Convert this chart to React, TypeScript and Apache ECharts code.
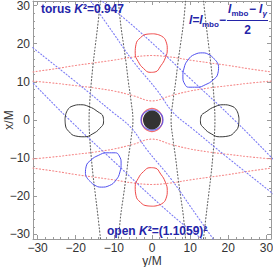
import React, { useEffect, useRef } from "react";
import * as echarts from "echarts";

const MAJOR_TICKS = [-30, -20, -10, 0, 10, 20, 30];
const MINOR_TICKS = [-28, -26, -24, -22, -18, -16, -14, -12, -8, -6, -4, -2, 2, 4, 6, 8, 12, 14, 16, 18, 22, 24, 26, 28];

// closed loops, points [y/M, x/M]
const RED_LOOP_TOP = [[0.3, 22.6], [2.5, 22.0], [3.7, 20.5], [4.0, 18.5], [3.5, 16.3], [2.3, 14.2], [0.8, 12.6], [-0.5, 12.5], [-2.2, 13.5], [-3.6, 15.3], [-4.4, 17.5], [-4.2, 19.8], [-3.0, 21.6], [-1.3, 22.5], [0.3, 22.6]];
const RED_LOOP_BOTTOM = [[0.3, -22.6], [2.5, -22.0], [3.7, -20.5], [4.0, -18.5], [3.5, -16.3], [2.3, -14.2], [0.8, -12.6], [-0.5, -12.5], [-2.2, -13.5], [-3.6, -15.3], [-4.4, -17.5], [-4.2, -19.8], [-3.0, -21.6], [-1.3, -22.5], [0.3, -22.6]];
const BLACK_LOOP_LEFT = [[-22.8, 0.3], [-22.2, 2.5], [-20.7, 3.7], [-18.7, 4.0], [-16.5, 3.5], [-14.4, 2.3], [-12.8, 0.8], [-12.7, -0.5], [-13.7, -2.2], [-15.5, -3.6], [-17.7, -4.4], [-20.0, -4.2], [-21.8, -3.0], [-22.7, -1.3], [-22.8, 0.3]];
const BLACK_LOOP_RIGHT = [[22.8, 0.3], [22.2, 2.5], [20.7, 3.7], [18.7, 4.0], [16.5, 3.5], [14.4, 2.3], [12.8, 0.8], [12.7, -0.5], [13.7, -2.2], [15.5, -3.6], [17.7, -4.4], [20.0, -4.2], [21.8, -3.0], [22.7, -1.3], [22.8, 0.3]];
const BLUE_LOOP_TR = [[16.3, 16.0], [17.45, 14.0], [17.24, 12.1], [16.0, 10.5], [14.1, 9.3], [11.8, 8.6], [9.6, 8.6], [8.6, 9.4], [8.1, 11.3], [8.4, 13.6], [9.4, 15.7], [11.2, 17.2], [13.3, 17.6], [15.1, 17.05], [16.3, 16.0]];
const BLUE_LOOP_BL = [[-16.3, -16.0], [-17.45, -14.0], [-17.24, -12.1], [-16.0, -10.5], [-14.1, -9.3], [-11.8, -8.6], [-9.6, -8.6], [-8.6, -9.4], [-8.1, -11.3], [-8.4, -13.6], [-9.4, -15.7], [-11.2, -17.2], [-13.3, -17.6], [-15.1, -17.05], [-16.3, -16.0]];

// dotted curves
const RED_OUTER_UP = [[-31.2, 12.6], [-25, 13.5], [-20, 14.3], [-15, 15.0], [-10, 15.7], [-5, 16.5], [0, 16.9], [5, 16.5], [10, 15.7], [15, 15.0], [20, 14.3], [25, 13.5], [31.2, 12.6]];
const RED_OUTER_DOWN = [[-31.2, -12.6], [-25, -13.5], [-20, -14.3], [-15, -15.0], [-10, -15.7], [-5, -16.5], [0, -16.9], [5, -16.5], [10, -15.7], [15, -15.0], [20, -14.3], [25, -13.5], [31.2, -12.6]];
const RED_INNER_UP = [[-31.2, 10.2], [-25, 9.6], [-20, 9.0], [-15, 8.4], [-10, 7.6], [-5, 6.4], [0, 5.0], [5, 6.4], [10, 7.6], [15, 8.4], [20, 9.0], [25, 9.6], [31.2, 10.2]];
const RED_INNER_DOWN = [[-31.2, -10.2], [-25, -9.6], [-20, -9.0], [-15, -8.4], [-10, -7.6], [-5, -6.4], [0, -5.0], [5, -6.4], [10, -7.6], [15, -8.4], [20, -9.0], [25, -9.6], [31.2, -10.2]];
const BLACK_OUTER_RIGHT = [[13.5, 31.2], [14.2, 25], [14.8, 20], [15.4, 15], [15.9, 10], [16.3, 5], [16.5, 0], [16.3, -5], [15.9, -10], [15.4, -15], [14.8, -20], [14.2, -25], [13.5, -31.2]];
const BLACK_OUTER_LEFT = [[-13.5, 31.2], [-14.2, 25], [-14.8, 20], [-15.4, 15], [-15.9, 10], [-16.3, 5], [-16.5, 0], [-16.3, -5], [-15.9, -10], [-15.4, -15], [-14.8, -20], [-14.2, -25], [-13.5, -31.2]];
const BLACK_INNER_RIGHT = [[8.8, 31.2], [8.2, 25], [7.5, 20], [6.8, 15], [6.2, 10], [5.5, 5], [5.0, 0], [5.5, -5], [6.2, -10], [6.8, -15], [7.5, -20], [8.2, -25], [8.8, -31.2]];
const BLACK_INNER_LEFT = [[-8.8, 31.2], [-8.2, 25], [-7.5, 20], [-6.8, 15], [-6.2, 10], [-5.5, 5], [-5.0, 0], [-5.5, -5], [-6.2, -10], [-6.8, -15], [-7.5, -20], [-8.2, -25], [-8.8, -31.2]];
const BLUE_INNER_POS = [[-17.5, 33.3], [-10.3, 23.0], [-5.1, 15.6], [1.4, 7.7], [5.5, 2.0], [10.5, -2.2], [20.0, -10.0], [31.3, -19.0], [33.0, -20.4]];
const BLUE_INNER_NEG = [[17.5, -33.3], [10.3, -23.0], [5.1, -15.6], [-1.4, -7.7], [-5.5, -2.0], [-10.5, 2.2], [-20.0, 10.0], [-31.3, 19.0], [-33.0, 20.4]];
const BLUE_OUTER_POS = [[-15.0, 32.6], [-5.1, 24.8], [10.5, 10.4], [21.7, -0.1], [31.3, -9.8], [33.0, -11.6]];
const BLUE_OUTER_NEG = [[15.0, -32.6], [5.1, -24.8], [-10.5, -10.4], [-21.7, 0.1], [-31.3, 9.8], [-33.0, 11.6]];

const CENTER = [[0, 0]];

const FONT = "'Liberation Sans', Arial, sans-serif";
const FRAME = "#9a9a9a";
const TEXT_BLUE = "#2424a8";

const fmt = (v: number) => (v < 0 ? "\u2212" + Math.abs(v) : String(v));

export default function App() {
  const ref = useRef<HTMLDivElement>(null);
  useEffect(() => {
    if (!ref.current) return;
    const chart = echarts.init(ref.current, undefined, { renderer: "svg" });

    const range = { min: -31.2, max: 31.2 };
    const mkAxis = (position: string, major: boolean, labels: boolean, extra: any = {}) => ({
      type: "value",
      position,
      ...range,
      axisLine: { show: major, onZero: false, lineStyle: { color: FRAME, width: 1 } },
      axisTick: {
        show: true,
        inside: true,
        length: major ? 4 : 2,
        customValues: major ? MAJOR_TICKS : MINOR_TICKS,
        lineStyle: { color: FRAME, width: 1 },
      },
      axisLabel: labels
        ? { show: true, customValues: MAJOR_TICKS, formatter: fmt, fontFamily: FONT, fontSize: 12, lineHeight: 12, color: "#333", margin: 3 }
        : { show: false },
      splitLine: { show: false },
      ...extra,
    });

    const dotted = (data: number[][], color: string) => ({
      type: "line",
      data,
      smooth: 0.4,
      showSymbol: false,
      symbol: "none",
      clip: true,
      silent: true,
      lineStyle: { color, width: 1.1, type: [1.1, 2.2], cap: "round" },
      z: 2,
    });
    const loop = (data: number[][], color: string) => ({
      type: "line",
      data,
      smooth: 0.5,
      showSymbol: false,
      symbol: "none",
      clip: true,
      silent: true,
      lineStyle: { color, width: 1 },
      z: 3,
    });
    const RED_D = "#f58a8a";
    const BLUE_D = "#7c7cf5";
    const BLACK_D = "#666666";

    chart.setOption({
      animation: false,
      backgroundColor: "#ffffff",
      grid: { left: 33, right: 2, top: 1, bottom: 28, containLabel: false, outerBoundsMode: "none" },
      xAxis: [
        mkAxis("bottom", true, true, {
          name: "y/M",
          nameLocation: "middle",
          nameGap: 16,
          nameMoveOverlap: false,
          nameTextStyle: { fontFamily: FONT, fontSize: 12, color: "#333", verticalAlign: "top", lineHeight: 11 },
        }),
        mkAxis("bottom", false, false),
        mkAxis("top", true, false),
        mkAxis("top", false, false),
      ],
      yAxis: [
        mkAxis("left", true, true, {
          name: "x/M",
          nameLocation: "middle",
          nameGap: 18,
          nameRotate: 90,
          nameMoveOverlap: false,
          nameTextStyle: { fontFamily: FONT, fontSize: 12, color: "#333" },
        }),
        mkAxis("left", false, false),
        mkAxis("right", true, false),
        mkAxis("right", false, false),
      ],
      series: [
        dotted(RED_OUTER_UP, RED_D),
        dotted(RED_OUTER_DOWN, RED_D),
        dotted(RED_INNER_UP, RED_D),
        dotted(RED_INNER_DOWN, RED_D),
        dotted(BLACK_OUTER_RIGHT, BLACK_D),
        dotted(BLACK_OUTER_LEFT, BLACK_D),
        dotted(BLACK_INNER_RIGHT, BLACK_D),
        dotted(BLACK_INNER_LEFT, BLACK_D),
        dotted(BLUE_INNER_POS, BLUE_D),
        dotted(BLUE_INNER_NEG, BLUE_D),
        dotted(BLUE_OUTER_POS, BLUE_D),
        dotted(BLUE_OUTER_NEG, BLUE_D),
        loop(RED_LOOP_TOP, "#f04a4a"),
        loop(RED_LOOP_BOTTOM, "#f04a4a"),
        loop(BLACK_LOOP_LEFT, "#3a3a3a"),
        loop(BLACK_LOOP_RIGHT, "#3a3a3a"),
        loop(BLUE_LOOP_TR, "#5050f0"),
        loop(BLUE_LOOP_BL, "#5050f0"),
        {
          type: "scatter",
          data: CENTER,
          symbol: "circle",
          symbolSize: [21, 23],
          silent: true,
          itemStyle: { color: "rgba(0,0,0,0)", borderColor: "#f04a4a", borderWidth: 1.2 },
          z: 4,
        },
        {
          type: "scatter",
          data: CENTER,
          symbol: "circle",
          symbolSize: [22, 20],
          silent: true,
          itemStyle: { color: "rgba(0,0,0,0)", borderColor: "#4a4af0", borderWidth: 1.2 },
          z: 5,
        },
        {
          type: "scatter",
          data: CENTER,
          symbol: "circle",
          symbolSize: [18, 19],
          silent: true,
          itemStyle: { color: "#000000" },
          z: 6,
        },
      ],
      graphic: [
        {
          type: "text",
          x: 41,
          y: 9,
          z: 10,
          style: {
            text: "torus {k|K}²=0.947",
            font: `bold 12px ${FONT}`,
            fill: TEXT_BLUE,
            textVerticalAlign: "middle",
            rich: { k: { fontStyle: "italic", fontWeight: "bold", fontSize: 12, fontFamily: FONT, fill: TEXT_BLUE } },
          } as any,
        },
        {
          type: "text",
          x: 107,
          y: 231,
          z: 10,
          style: {
            text: "open {k|K}²=(1.1059)²",
            font: `bold 12px ${FONT}`,
            fill: TEXT_BLUE,
            textVerticalAlign: "middle",
            rich: { k: { fontStyle: "italic", fontWeight: "bold", fontSize: 12, fontFamily: FONT, fill: TEXT_BLUE } },
          } as any,
        },
        // formula: l = l_mbo − (l_mbo − l_γ)/2
        { type: "text", x: 189, y: 20, z: 10, style: { text: "l=l", font: `italic bold 12px ${FONT}`, fill: TEXT_BLUE, textVerticalAlign: "middle" } as any },
        { type: "text", x: 202, y: 24, z: 10, style: { text: "mbo", font: `bold 8px ${FONT}`, fill: TEXT_BLUE, textVerticalAlign: "middle" } as any },
        { type: "text", x: 219, y: 20, z: 10, style: { text: "\u2212", font: `bold 12px ${FONT}`, fill: TEXT_BLUE, textVerticalAlign: "middle" } as any },
        { type: "text", x: 228, y: 9, z: 10, style: { text: "l", font: `italic bold 12px ${FONT}`, fill: TEXT_BLUE, textVerticalAlign: "middle" } as any },
        { type: "text", x: 231.5, y: 13, z: 10, style: { text: "mbo", font: `bold 8px ${FONT}`, fill: TEXT_BLUE, textVerticalAlign: "middle" } as any },
        { type: "text", x: 249, y: 9, z: 10, style: { text: "\u2212", font: `bold 12px ${FONT}`, fill: TEXT_BLUE, textVerticalAlign: "middle" } as any },
        { type: "text", x: 259, y: 9, z: 10, style: { text: "l", font: `italic bold 12px ${FONT}`, fill: TEXT_BLUE, textVerticalAlign: "middle" } as any },
        { type: "text", x: 262.5, y: 13, z: 10, style: { text: "γ", font: `italic bold 8px ${FONT}`, fill: TEXT_BLUE, textVerticalAlign: "middle" } as any },
        { type: "line", z: 10, shape: { x1: 227, y1: 20.5, x2: 268, y2: 20.5 }, style: { stroke: TEXT_BLUE, lineWidth: 1.2 } },
        { type: "text", x: 247.5, y: 30, z: 10, style: { text: "2", font: `bold 12px ${FONT}`, fill: TEXT_BLUE, textAlign: "center", textVerticalAlign: "middle" } as any },
      ],
    });
    return () => chart.dispose();
  }, []);
  return (
    <div
      ref={ref}
      style={{ position: "fixed", left: 0, top: 0, width: 273, height: 267, background: "#fff" }}
    />
  );
}
